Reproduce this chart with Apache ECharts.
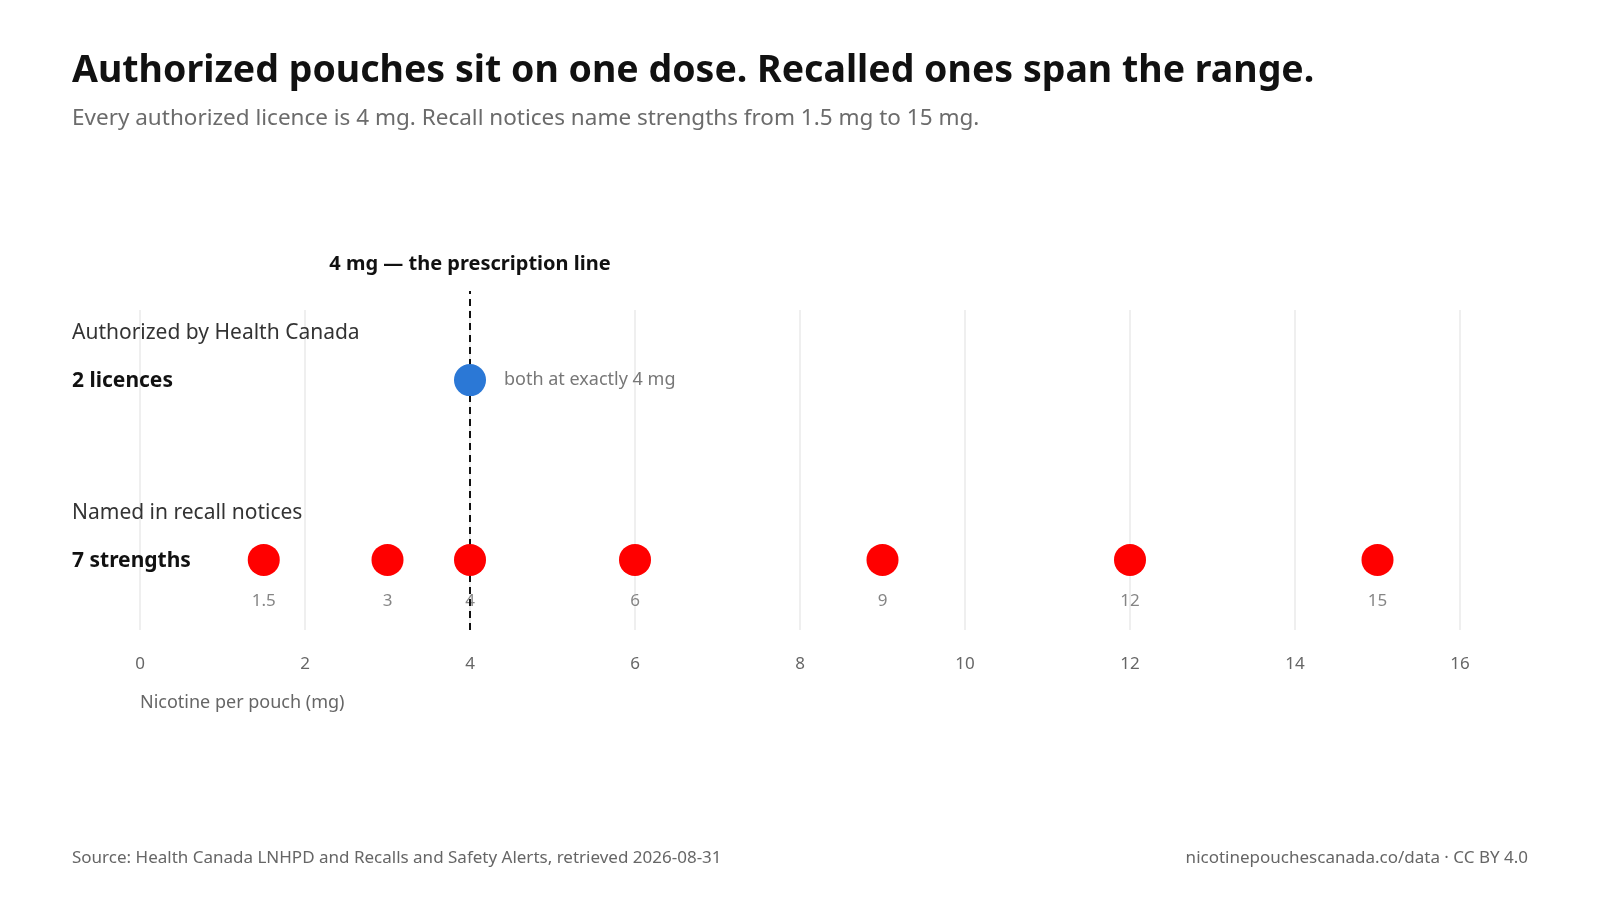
<!DOCTYPE html>
<html>
<head>
<meta charset="utf-8">
<title>Nicotine pouch strengths</title>
<script src="https://cdn.jsdelivr.net/npm/echarts@6/dist/echarts.min.js"></script>
<style>
  html, body { margin: 0; padding: 0; background: #fff; }
  #main { width: 1600px; height: 900px; }
</style>
</head>
<body>
<div id="main"></div>
<script>
// data
var authorizedMg = [4];
var recallMg = [1.5, 3, 4, 6, 9, 12, 15];
var rowLevel = { authorized: 1, recall: 0 };
var prescriptionMg = 4;
var xTicks = [0, 16, 2]; // min, max, interval

var FONT = '"Noto Sans", "Open Sans", sans-serif';

function toPoints(list, level){
	return list.map(function(v){ return [v, level]; });
}

var myChart = echarts.init(document.getElementById('main'));

var option = {
	backgroundColor: '#fff',
	animation: false,
	textStyle: { fontFamily: FONT },
	title: [{
		text: 'Authorized pouches sit on one dose. Recalled ones span the range.',
		left: 67, top: 47,
		textStyle: { fontSize: 37.5, fontWeight: 'bold', color: '#111', fontFamily: FONT }
	}, {
		text: 'Every authorized licence is 4 mg. Recall notices name strengths from 1.5 mg to 15 mg.',
		left: 67, top: 102,
		textStyle: { fontSize: 22.5, fontWeight: 'normal', color: '#6b6b6b', fontFamily: FONT }
	}],
	grid: [
		{ left: 140, right: 140, top: 310, bottom: 270 },
		{ left: 140, right: 140, top: 291, bottom: 270 }
	],
	xAxis: [{
		gridIndex: 0,
		type: 'value',
		min: xTicks[0], max: xTicks[1], interval: xTicks[2],
		axisLine: { show: false },
		axisTick: { show: false },
		axisLabel: { margin: 26, fontSize: 17, color: '#666', fontFamily: FONT },
		splitLine: { show: true, lineStyle: { color: '#efefef', width: 2 } }
	}, {
		gridIndex: 1,
		type: 'value',
		min: xTicks[0], max: xTicks[1],
		show: false
	}],
	yAxis: [{
		gridIndex: 0,
		type: 'value',
		min: -0.39, max: 1.39,
		show: false,
		splitLine: { show: false }
	}, {
		gridIndex: 1,
		type: 'value',
		min: 0, max: 1,
		show: false
	}],
	series: [{
		// value labels under recalled strengths (drawn beneath the dashed line)
		name: 'recall labels',
		type: 'scatter',
		xAxisIndex: 0, yAxisIndex: 0,
		z: 1,
		symbolSize: 32,
		itemStyle: { color: 'rgba(0,0,0,0)' },
		data: toPoints(recallMg, rowLevel.recall),
		label: {
			show: true, position: 'bottom', distance: 17,
			fontSize: 17, color: '#666', fontFamily: FONT,
			formatter: function(p){ return p.value[0]; }
		}
	}, {
		name: 'prescription line',
		type: 'line',
		xAxisIndex: 1, yAxisIndex: 1,
		z: 2,
		showSymbol: true,
		symbol: 'circle',
		symbolSize: 0.1,
		data: [[prescriptionMg, 0], {
			value: [prescriptionMg, 1],
			label: {
				show: true,
				formatter: '4 mg — the prescription line',
				position: 'top', distance: 17,
				fontSize: 20, fontWeight: 'bold', color: '#111', fontFamily: FONT
			}
		}],
		lineStyle: { color: '#111', width: 2, type: [7, 5] },
		itemStyle: { color: '#111' }
	}, {
		name: 'Authorized',
		type: 'scatter',
		xAxisIndex: 0, yAxisIndex: 0,
		z: 3,
		symbolSize: 32,
		itemStyle: { color: '#2b78d6', opacity: 1 },
		data: toPoints(authorizedMg, rowLevel.authorized),
		label: {
			show: true, position: 'right', distance: 18,
			formatter: 'both at exactly 4 mg',
			fontSize: 18, color: '#777', fontFamily: FONT
		}
	}, {
		name: 'Recalled',
		type: 'scatter',
		xAxisIndex: 0, yAxisIndex: 0,
		z: 3,
		symbolSize: 32,
		itemStyle: { color: '#ff0000', opacity: 1 },
		data: toPoints(recallMg, rowLevel.recall)
	}],
	graphic: [
		{ type: 'text', z: 100, left: 72, top: 323, style: { text: 'Authorized by Health Canada', font: '21px ' + FONT, fill: '#333' } },
		{ type: 'text', z: 100, left: 72, top: 371, style: { text: '2 licences', font: 'bold 21px ' + FONT, fill: '#111' } },
		{ type: 'text', z: 100, left: 72, top: 503, style: { text: 'Named in recall notices', font: '21px ' + FONT, fill: '#333' } },
		{ type: 'text', z: 100, left: 72, top: 551, style: { text: '7 strengths', font: 'bold 21px ' + FONT, fill: '#111' } },
		{ type: 'text', z: 100, left: 140, top: 694, style: { text: 'Nicotine per pouch (mg)', font: '18px ' + FONT, fill: '#666' } },
		{ type: 'text', z: 100, left: 72, top: 850, style: { text: 'Source: Health Canada LNHPD and Recalls and Safety Alerts, retrieved 2026-08-31', font: '17px ' + FONT, fill: '#666' } },
		{ type: 'text', z: 100, right: 72, top: 850, style: { text: 'nicotinepouchescanada.co/data · CC BY 4.0', font: '17px ' + FONT, fill: '#666' } }
	]
};

myChart.setOption(option);
</script>
</body>
</html>
